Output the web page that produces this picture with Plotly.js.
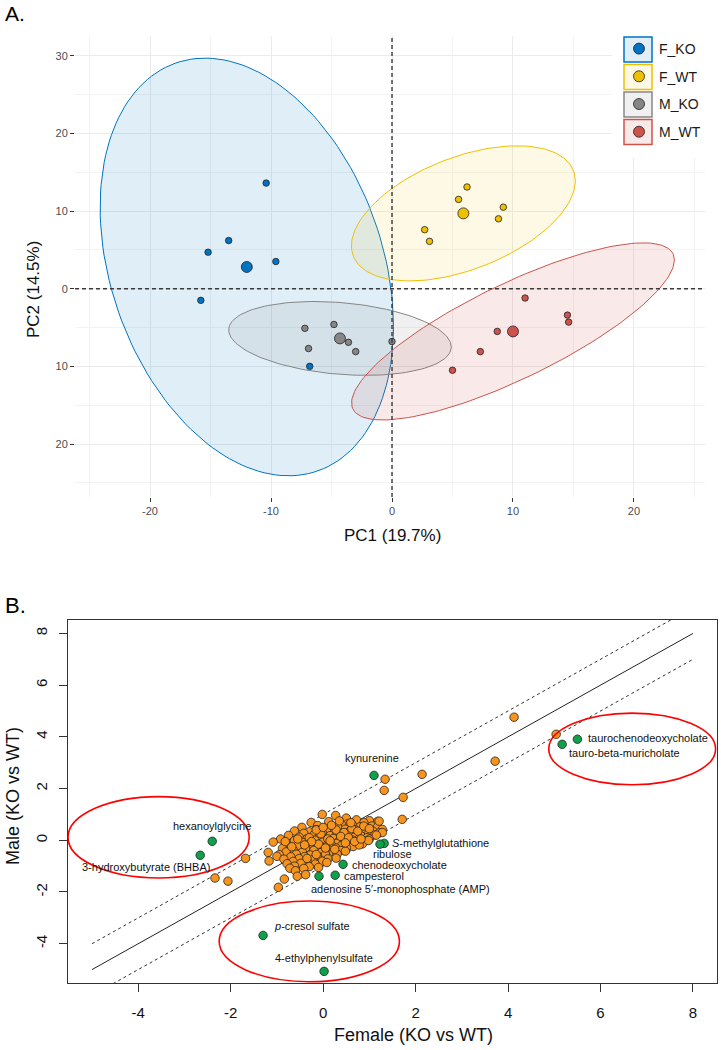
<!DOCTYPE html>
<html><head><meta charset="utf-8">
<script src="https://cdn.plot.ly/plotly-3.0.1.min.js"></script>
<style>html,body{margin:0;padding:0;background:#fff}#chart{width:721px;height:1050px}</style>
</head><body><div id="chart"></div>
<script>
// ---------- Panel A: PCA scores ----------
const groups = ["F_KO", "F_WT", "M_KO", "M_WT"];
const groupColors = ["#0073C2", "#EFC000", "#868686", "#CD534C"];
const groupFills = ["rgba(0,115,194,0.12)", "rgba(239,192,0,0.10)", "rgba(134,134,134,0.12)", "rgba(205,83,76,0.12)"];
const fkoPC1 = [-10.4, -13.5, -15.2, -9.6, -15.8, -6.8];
const fkoPC2 = [13.6, 6.2, 4.7, 3.5, -1.5, -10.0];
const fwtPC1 = [6.2, 5.5, 9.2, 8.8, 2.7, 3.1];
const fwtPC2 = [13.1, 11.5, 10.5, 9.0, 7.6, 6.1];
const mkoPC1 = [-7.2, -4.8, -6.9, -3.6, -3.0, 0.0];
const mkoPC2 = [-5.1, -4.6, -7.7, -6.9, -8.1, -6.8];
const mwtPC1 = [11.0, 14.5, 14.6, 8.7, 7.3, 5.0];
const mwtPC2 = [-1.2, -3.4, -4.3, -5.5, -8.1, -10.5];
const centroidPC1 = [-12.0, 5.9, -4.3, 10.0];
const centroidPC2 = [2.8, 9.7, -6.4, -5.5];
// confidence-ellipse covariance terms per group
const ellSxx = [147, 85.6, 84.6, 178];
const ellSyy = [723, 75.7, 22.6, 130];
const ellSxy = [-92.8, 38.7, -10.1, 122.8];
const pcXTicks = [-20, -10, 0, 10, 20];
const pcXTickText = ["-20", "-10", "0", "10", "20"];
const pcYTicks = [-20, -10, 0, 10, 20, 30];
const pcYTickText = ["20", "10", "0", "10", "20", "30"];

// ---------- Panel B: KO vs WT fold changes ----------
const otherFemale = [
-0.02, 0.27, 0.50, 0.72, 1.00, -0.26, 0.12, 0.88, 1.18, 0.52, 0.40,
-0.46, -0.12, 0.22, 0.65, 0.80, 1.05, 0.02, 0.32, 0.95, 1.17,
-0.15, 0.48, 0.70, 1.28, -0.62, -0.30, 0.10, 0.25, 0.58, 0.85, 1.08,
-0.42, -0.02, 0.40, 0.72, 0.98, 1.22, -0.75, -0.20, 0.15, 0.30, 0.55, 0.82, 1.12,
-0.52, -0.08, 0.42, 0.68, 0.95, 1.28, -0.92, -0.35, 0.05, 0.22, 0.50, 0.78, 1.00,
-0.62, -0.18, 0.35, 0.62, 0.90, 1.15, -1.08, -0.45, 0.00, 0.18, 0.45, 0.72,
-0.78, -0.28, 0.10, 0.30, 0.58, 0.85, 0.98, -0.55, -0.12, 0.20, 0.40, 0.65,
-0.88, -0.38, 0.02, 0.28, 0.50, 0.78, -0.65, -0.20, 0.12, 0.38,
-1.19, -0.80, -0.45, -0.05, 0.22, 0.48, -0.95, -0.58, -0.28, 0.05, 0.30,
-1.00, -0.70, -0.40, -0.12, 0.28, -0.85, -0.52, -0.22, 0.10,
-1.17, -0.65, -0.35, -0.02, -0.78, -0.48, -0.17, 0.08,
-0.62, -0.30, -0.72, -0.42, -0.10, -0.60, -0.56, -0.38, -0.84, -0.97,
-0.30, -0.05, 0.10, 0.28, 0.45, 0.62, 0.75, 0.88, 0.38, 0.15, -0.10, 0.05, -0.25, 0.55, 0.68,
0.25, -0.40, -0.15, 0.18, 0.35, 0.60, 1.00, 0.82, -0.55, -0.68, -0.35, -0.15, -0.82, 0.00, 0.48,
4.13, 5.04, 3.72, 2.14, 1.34, 1.32, 1.73, 1.21, 1.71, -1.68, -2.34, -2.06
];
const otherMale = [
1.00, 0.96, 0.86, 0.79, 0.76, 0.69, 0.72, 0.68, 0.73, 0.63, 0.60,
0.50, 0.57, 0.53, 0.56, 0.52, 0.55, 0.47, 0.49, 0.46, 0.50,
0.41, 0.43, 0.40, 0.42, 0.36, 0.33, 0.37, 0.34, 0.36, 0.32, 0.35,
0.27, 0.29, 0.26, 0.28, 0.25, 0.29, 0.19, 0.21, 0.18, 0.22, 0.20, 0.17, 0.21,
0.12, 0.14, 0.11, 0.13, 0.10, 0.30, 0.05, 0.06, 0.03, 0.07, 0.04, 0.06, 0.05,
-0.01, 0.00, -0.02, 0.01, -0.03, 0.20, -0.07, -0.08, -0.06, -0.09, -0.05, -0.08,
-0.15, -0.13, -0.16, -0.12, -0.15, -0.14, -0.01, -0.21, -0.23, -0.22, -0.20, -0.24,
-0.31, -0.29, -0.32, -0.30, -0.28, -0.18, -0.37, -0.39, -0.38, -0.40,
-0.47, -0.45, -0.46, -0.48, -0.44, -0.42, -0.56, -0.54, -0.57, -0.55, -0.53,
-0.62, -0.64, -0.63, -0.61, -0.69, -0.73, -0.71, -0.74, -0.72,
-0.80, -0.82, -0.79, -0.81, -0.91, -0.89, -0.92, -0.86,
-1.00, -1.02, -1.08, -1.09, -1.05, -1.18, -1.39, -1.33, -1.50, -1.82,
0.10, 0.25, 0.05, 0.40, 0.30, 0.45, 0.35, 0.55, 0.15, -0.02, -0.15, -0.30, -0.05, 0.10, -0.05,
-0.35, -0.18, 0.40, 0.58, 0.75, 0.68, 0.45, 0.05, 0.05, -0.25, -0.70, -0.55, -0.05, 0.50, -0.10,
4.76, 4.10, 3.06, 2.55, 2.36, 1.93, 1.66, 0.74, 0.81, -0.70, -1.46, -1.58
];
const hitNames = ["hexanoylglycine", "3-hydroxybutyrate (BHBA)", "<i>p</i>-cresol sulfate", "4-ethylphenylsulfate",
  "kynurenine", "taurochenodeoxycholate", "tauro-beta-muricholate", "<i>S</i>-methylglutathione", "ribulose",
  "chenodeoxycholate", "campesterol", "adenosine 5\u2032-monophosphate (AMP)"];
const hitFemale = [-2.40, -2.66, -1.30, 0.02, 1.10, 5.50, 5.17, 1.32, 1.23, 0.43, 0.26, -0.09];
const hitMale = [-0.04, -0.58, -3.68, -5.07, 2.51, 3.91, 3.71, -0.12, -0.15, -0.93, -1.35, -1.39];
const fcTicks = [-4, -2, 0, 2, 4, 6, 8];
const fcTickText = ["-4", "-2", "0", "2", "4", "6", "8"];
const identityRange = [-5, 8];
const foldBand = 1;

// label placement (anchor, pixel shifts) – style only
const hitAnchor = ["center", "right", "left", "center", "center", "left", "left", "left", "center", "left", "left", "left"];
const hitDx = [0, 12, 9, 0, -2, 9, 5, 6, 12, 7, 7, -10];
const hitDy = [15, -12, 9, 13, 17, 1, -9, 0, -10, -1, -1, -13];

// ---------- build ----------
function ellipsePts(cx, cy, sxx, syy, sxy) {
  const l11 = Math.sqrt(sxx), l21 = sxy / l11, l22 = Math.sqrt(syy - l21 * l21);
  const xs = [], ys = [];
  for (let i = 0; i <= 160; i++) {
    const t = 2 * Math.PI * i / 160;
    xs.push(cx + l11 * Math.cos(t));
    ys.push(cy + l21 * Math.cos(t) + l22 * Math.sin(t));
  }
  return {xs, ys};
}
const groupPC1 = [fkoPC1, fwtPC1, mkoPC1, mwtPC1];
const groupPC2 = [fkoPC2, fwtPC2, mkoPC2, mwtPC2];
const traces = [];
groups.forEach((g, i) => {
  const e = ellipsePts(centroidPC1[i], centroidPC2[i], ellSxx[i], ellSyy[i], ellSxy[i]);
  traces.push({type: "scatter", mode: "lines", x: e.xs, y: e.ys, xaxis: "x", yaxis: "y",
    fill: "toself", fillcolor: groupFills[i], line: {color: groupColors[i], width: 1},
    showlegend: false, hoverinfo: "skip"});
});
groups.forEach((g, i) => {
  traces.push({type: "scatter", mode: "markers", x: groupPC1[i], y: groupPC2[i], xaxis: "x", yaxis: "y",
    marker: {color: groupColors[i], size: 6.5, line: {color: "#222", width: 0.8}},
    showlegend: false, name: g});
});
groups.forEach((g, i) => {
  traces.push({type: "scatter", mode: "markers", x: [centroidPC1[i]], y: [centroidPC2[i]], xaxis: "x", yaxis: "y",
    marker: {color: groupColors[i], size: 11, line: {color: "#222", width: 0.8}},
    name: g, legendgroup: g, showlegend: true});
});
// reference lines in panel B
traces.push({type: "scatter", mode: "lines", x: identityRange, y: identityRange, xaxis: "x2", yaxis: "y2",
  line: {color: "#222", width: 1}, showlegend: false, hoverinfo: "skip"});
traces.push({type: "scatter", mode: "lines", x: identityRange, y: identityRange.map(v => v + foldBand), xaxis: "x2", yaxis: "y2",
  line: {color: "#333", width: 1, dash: "dot"}, showlegend: false, hoverinfo: "skip"});
traces.push({type: "scatter", mode: "lines", x: identityRange, y: identityRange.map(v => v - foldBand), xaxis: "x2", yaxis: "y2",
  line: {color: "#333", width: 1, dash: "dot"}, showlegend: false, hoverinfo: "skip"});
traces.push({type: "scatter", mode: "markers", x: otherFemale, y: otherMale, xaxis: "x2", yaxis: "y2",
  marker: {color: "#F7941D", size: 8.5, line: {color: "#222", width: 0.8}}, showlegend: false});
traces.push({type: "scatter", mode: "markers", x: hitFemale, y: hitMale, xaxis: "x2", yaxis: "y2",
  marker: {color: "#0FA04B", size: 8.5, line: {color: "#222", width: 0.8}}, showlegend: false});

const annotations = hitNames.map((n, i) => ({
  xref: "x2", yref: "y2", x: hitFemale[i], y: hitMale[i], text: n, showarrow: false,
  xanchor: hitAnchor[i], yanchor: "middle", xshift: hitDx[i], yshift: hitDy[i],
  font: {family: "Liberation Sans, Arial", size: 11, color: "#111"}
}));
const px = v => v / 721, py = v => 1 - v / 1050;
annotations.push(
  {xref: "paper", yref: "paper", x: px(3), y: py(14), text: "A.", showarrow: false, xanchor: "left", yanchor: "middle",
   font: {family: "Liberation Sans, Arial", size: 21, color: "#000"}},
  {xref: "paper", yref: "paper", x: px(3), y: py(605), text: "B.", showarrow: false, xanchor: "left", yanchor: "middle",
   font: {family: "Liberation Sans, Arial", size: 22, color: "#000"}},
  {xref: "paper", yref: "paper", x: px(392), y: py(535), text: "PC1 (19.7%)", showarrow: false, xanchor: "center", yanchor: "middle",
   font: {family: "Liberation Sans, Arial", size: 17, color: "#111"}},
  {xref: "paper", yref: "paper", x: px(33), y: py(290), text: "PC2 (14.5%)", showarrow: false, textangle: -90, xanchor: "center", yanchor: "middle",
   font: {family: "Liberation Sans, Arial", size: 17, color: "#111"}},
  {xref: "paper", yref: "paper", x: px(413), y: py(1035), text: "Female (KO vs WT)", showarrow: false, xanchor: "center", yanchor: "middle",
   font: {family: "Liberation Sans, Arial", size: 18, color: "#111"}},
  {xref: "paper", yref: "paper", x: px(13), y: py(796), text: "Male (KO vs WT)", showarrow: false, textangle: -90, xanchor: "center", yanchor: "middle",
   font: {family: "Liberation Sans, Arial", size: 18, color: "#111"}}
);

const keyTops = [37, 64.5, 92, 119.5];
const shapes = [
  {type: "line", xref: "x", yref: "paper", x0: 0, x1: 0, y0: py(497), y1: py(36), layer: "above", line: {color: "#3a3a3a", width: 1.4, dash: "4px,3px"}},
  {type: "line", xref: "paper", yref: "y", x0: px(75), x1: px(705), y0: 0, y1: 0, layer: "above", line: {color: "#3a3a3a", width: 1.4, dash: "4px,3px"}},
  {type: "rect", xref: "paper", yref: "paper", x0: px(612), x1: px(721), y0: py(158), y1: py(36), layer: "above", fillcolor: "#fff", line: {width: 0}},
  // highlight rings in panel B
  {type: "circle", xref: "x2", yref: "y2", x0: -5.52, x1: -1.6, y0: -1.46, y1: 1.69, layer: "above", line: {color: "#FF0000", width: 1.6}},
  {type: "circle", xref: "x2", yref: "y2", x0: -2.25, x1: 1.65, y0: -5.47, y1: -2.35, layer: "above", line: {color: "#FF0000", width: 1.6}},
  {type: "circle", xref: "x2", yref: "y2", x0: 4.88, x1: 8.49, y0: 2.15, y1: 4.92, layer: "above", line: {color: "#FF0000", width: 1.6}}
];
keyTops.forEach((t, i) => shapes.push({type: "rect", xref: "paper", yref: "paper", x0: px(624), x1: px(652), y0: py(t + 25), y1: py(t),
  layer: "above", fillcolor: groupFills[i], line: {color: groupColors[i], width: 1.5}}));

const layout = {
  width: 721, height: 1050, autosize: false, margin: {l: 0, r: 0, t: 0, b: 0},
  paper_bgcolor: "#fff", plot_bgcolor: "#fff",
  font: {family: "Liberation Sans, Arial", color: "#111"},
  xaxis: {domain: [px(75), px(705)], range: [-26.2, 25.87], tickvals: pcXTicks, ticktext: pcXTickText,
    showgrid: true, gridcolor: "#EBEBEB", gridwidth: 1, zeroline: false, showline: false,
    ticks: "outside", ticklen: 4, tickcolor: "#333", tickfont: {size: 11, color: "#4D4D4D"},
    minor: {tickvals: [-25, -15, -5, 5, 15, 25], showgrid: true, gridcolor: "#F3F3F3", gridwidth: 1, ticks: ""}, anchor: "y"},
  yaxis: {domain: [py(497), py(36)], range: [-26.82, 32.54], tickvals: pcYTicks, ticktext: pcYTickText,
    showgrid: true, gridcolor: "#EBEBEB", gridwidth: 1, zeroline: false, showline: false,
    ticks: "outside", ticklen: 4, tickcolor: "#333", tickfont: {size: 11, color: "#4D4D4D"},
    minor: {tickvals: [-25, -15, -5, 5, 15, 25], showgrid: true, gridcolor: "#F3F3F3", gridwidth: 1, ticks: ""}, anchor: "x"},
  xaxis2: {domain: [px(68), px(717)], range: [-5.52, 8.52], tickvals: fcTicks, ticktext: fcTickText,
    showgrid: false, zeroline: false, showline: true, mirror: true, linecolor: "#333", linewidth: 1,
    ticks: "outside", ticklen: 8, tickcolor: "#333", tickfont: {size: 15, color: "#111"}, ticklabelstandoff: 8, anchor: "y2"},
  yaxis2: {domain: [py(983), py(620)], range: [-5.52, 8.52], tickvals: fcTicks, ticktext: fcTickText,
    showgrid: false, zeroline: false, showline: true, mirror: true, linecolor: "#333", linewidth: 1,
    ticks: "outside", ticklen: 8, tickcolor: "#333", tickfont: {size: 15, color: "#111"}, tickangle: -90, ticklabelstandoff: 6, anchor: "x2"},
  showlegend: true,
  legend: {x: px(619), y: py(33), xref: "paper", yref: "paper", xanchor: "left", yanchor: "top",
    bgcolor: "rgba(0,0,0,0)", borderwidth: 0, tracegroupgap: 6.5, traceorder: "grouped",
    font: {family: "Liberation Sans, Arial", size: 14, color: "#1a1a1a"}},
  annotations: annotations, shapes: shapes
};
Plotly.newPlot("chart", traces, layout, {staticPlot: true, displayModeBar: false});
</script></body></html>
